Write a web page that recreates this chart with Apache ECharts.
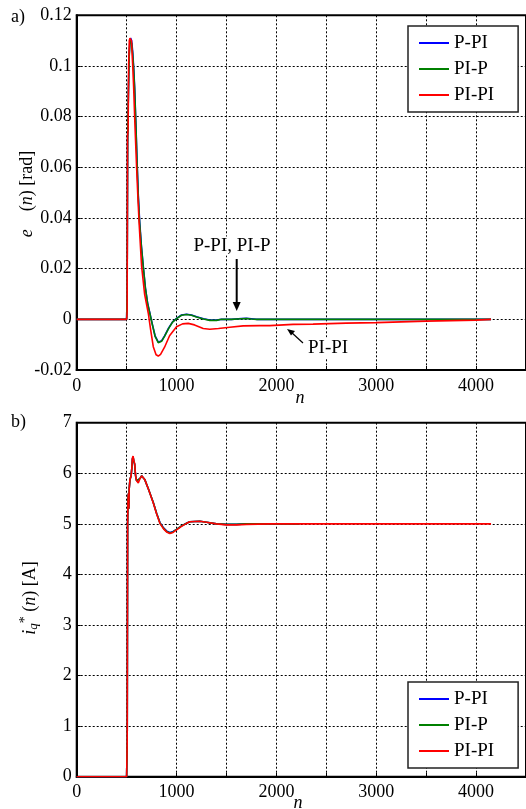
<!DOCTYPE html>
<html>
<head>
<meta charset="utf-8">
<script src="https://cdn.jsdelivr.net/npm/echarts@6/dist/echarts.min.js"></script>
<style>
html,body{margin:0;padding:0;background:#fff;}
#chart{width:526px;height:809px;}
</style>
</head>
<body>
<div id="chart"></div>
<script>
// ---------- labels ----------
var seriesNames = ['P-PI', 'PI-P', 'PI-PI'];
var xTicks = [0, 1000, 2000, 3000, 4000];

// ---------- data (a) e(n) ----------
var nE_PPI = [0,500,505,510,518,525,533,540,550,560,570,580,593,605,617,630,648,667,688,710,733,758,785,817,850,880,920,960,1000,1050,1100,1150,1200,1270,1333,1400,1450,1550,1650,1700,1750,1800,4150];
var e_PPI  = [0,0,0.01,0.07,0.09,0.104,0.110,0.111,0.110,0.106,0.100,0.092,0.077,0.062,0.049,0.039,0.029,0.0208,0.0125,0.0065,0.0024,-0.002,-0.0065,-0.009,-0.0085,-0.0065,-0.0035,-0.001,0.0004,0.0017,0.002,0.0017,0.001,0.0002,-0.0003,-0.0003,0,0,0.0003,0.0004,0.0002,0,0];

var nE_PIP = nE_PPI.slice();
var e_PIP  = [0,0,0.01,0.07,0.09,0.103,0.109,0.110,0.109,0.105,0.099,0.091,0.076,0.061,0.048,0.038,0.0285,0.0205,0.0122,0.0062,0.0022,-0.0022,-0.0067,-0.0092,-0.0087,-0.0067,-0.0037,-0.0011,0.0003,0.0016,0.0019,0.0016,0.0009,0.0001,-0.0004,-0.0004,0,0,0.0002,0.0003,0.0001,0,0];

var nE_PIPI = [0,500,505,507,509,515,520,527,533,548,560,570,583,600,612,625,650,680,717,740,767,795,817,840,880,930,1000,1060,1117,1180,1267,1333,1420,1533,1667,1833,1933,2167,2367,2700,3000,3500,4000,4150];
var e_PIPI  = [0,0,0.003,0.03,0.072,0.075,0.100,0.110,0.111,0.110,0.101,0.092,0.077,0.060,0.049,0.038,0.021,0.010,0.0024,-0.004,-0.0108,-0.014,-0.0145,-0.0138,-0.011,-0.0065,-0.0029,-0.0018,-0.0016,-0.0022,-0.0036,-0.0039,-0.0036,-0.0031,-0.0026,-0.0025,-0.0025,-0.002,-0.0019,-0.0015,-0.0013,-0.0007,-0.0003,0];

// ---------- data (b) iq*(n) ----------
var nI_PPI = [0,500,503,506,508,510,514,518,522,526,533,545,552,558,565,572,580,590,600,617,635,650,667,683,720,767,800,833,870,900,933,965,1000,1050,1100,1133,1233,1300,1400,1500,1600,1700,1933,2233];
var i_PPI  = [0,0,0,0.7,3.0,5.0,5.5,5.6,5.3,5.7,5.87,5.95,6.1,6.28,6.32,6.24,6.18,5.95,5.85,5.82,5.9,5.95,5.93,5.87,5.68,5.42,5.21,5.03,4.92,4.86,4.83,4.85,4.89,4.96,5.01,5.04,5.05,5.03,5.0,4.99,4.99,5.0,5.0,5.0];

var nI_PIP = nI_PPI.slice();
var i_PIP  = [0,0,0,0.7,3.0,5.0,5.5,5.6,5.3,5.7,5.87,5.95,6.1,6.28,6.32,6.24,6.18,5.95,5.85,5.82,5.9,5.95,5.93,5.87,5.68,5.42,5.21,5.02,4.91,4.85,4.82,4.84,4.89,4.96,5.01,5.04,5.05,5.03,5.0,4.99,4.99,5.0,5.0,5.0];

var nI_PIPI = [0,500,503,506,508,510,514,518,522,526,533,545,552,558,565,572,580,590,600,617,635,650,667,683,720,767,800,833,870,900,933,965,1000,1050,1100,1133,1233,1300,1400,1500,1600,1700,1933,2233,4150];
var i_PIPI  = [0,0,0,0.7,3.0,5.0,5.5,5.6,5.3,5.7,5.87,5.95,6.1,6.3,6.34,6.25,6.2,5.95,5.85,5.81,5.9,5.95,5.93,5.87,5.68,5.41,5.2,5.01,4.9,4.84,4.81,4.83,4.88,4.95,5.01,5.04,5.05,5.03,5.0,4.98,4.98,4.99,5.0,5.0,5.0];

var colors = ['#0000ff', '#008000', '#ff0000'];

function zip(a, b) { return a.map(function (v, i) { return [v, b[i]]; }); }

var FONT = "'Liberation Serif', 'Times New Roman', serif";
var GRID_L = 76.7, GRID_W = 450;

function xAxisCfg(gridIndex) {
  return {
    type: 'value', gridIndex: gridIndex, min: 0, max: 4500, interval: 500,
    axisLine: { show: true, onZero: false, lineStyle: { color: '#000', width: 2 } },
    axisTick: { show: true, inside: true, length: 4, lineStyle: { color: '#000' } },
    axisLabel: {
      color: '#000', fontFamily: FONT, fontSize: 18, margin: 7, showMaxLabel: false,
      formatter: function (v) { return xTicks.indexOf(v) >= 0 ? String(v) : ''; }
    },
    splitLine: { show: true, lineStyle: { color: '#000', type: [2, 2], width: 1 } }
  };
}
function yAxisCfg(gridIndex, min, max, interval) {
  return {
    type: 'value', gridIndex: gridIndex, min: min, max: max, interval: interval,
    axisLine: { show: true, onZero: false, lineStyle: { color: '#000', width: 2 } },
    axisTick: { show: true, inside: true, length: 4, lineStyle: { color: '#000' } },
    axisLabel: {
      color: '#000', fontFamily: FONT, fontSize: 18, margin: 5,
      formatter: function (v) { return String(Math.round(v * 100) / 100); }
    },
    splitLine: { show: true, lineStyle: { color: '#000', type: [2, 2], width: 1 } }
  };
}
function lineSeries(name, data, color, xi, yi, z) {
  return {
    name: name, type: 'line', data: data, xAxisIndex: xi, yAxisIndex: yi,
    symbol: 'none', showSymbol: false, animation: false, z: z,
    lineStyle: { color: color, width: 1.6 }, itemStyle: { color: color }
  };
}
function legendCfg(top) {
  return {
    orient: 'vertical', left: 408, top: top,
    data: seriesNames.map(function (n) { return { name: n, icon: 'path://M0,0 L30,0 L30,2 L0,2 Z' }; }),
    itemWidth: 30, itemHeight: 2, itemGap: 6,
    padding: [7, 24, 7, 11],
    borderColor: '#222', borderWidth: 1.5, backgroundColor: '#fff',
    textStyle: { color: '#000', fontFamily: FONT, fontSize: 19, lineHeight: 20 }
  };
}

var chart = echarts.init(document.getElementById('chart'), null, { renderer: 'canvas' });

var option = {
  backgroundColor: '#fff',
  animation: false,
  grid: [
    { left: GRID_L, top: 15.3, width: GRID_W, height: 354.7, show: true, borderColor: '#000', borderWidth: 2, containLabel: false },
    { left: GRID_L, top: 422.7, width: GRID_W, height: 354, show: true, borderColor: '#000', borderWidth: 2, containLabel: false }
  ],
  xAxis: [xAxisCfg(0), xAxisCfg(1)],
  yAxis: [yAxisCfg(0, -0.02, 0.12, 0.02), yAxisCfg(1, 0, 7, 1)],
  legend: [
    Object.assign(legendCfg(26), { id: 'legA' }),
    Object.assign(legendCfg(682), { id: 'legB' })
  ],
  series: [
    lineSeries('P-PI', zip(nE_PPI, e_PPI), colors[0], 0, 0, 2),
    lineSeries('PI-P', zip(nE_PIP, e_PIP), colors[1], 0, 0, 3),
    lineSeries('PI-PI', zip(nE_PIPI, e_PIPI), colors[2], 0, 0, 4),
    lineSeries('P-PI', zip(nI_PPI, i_PPI), colors[0], 1, 1, 2),
    lineSeries('PI-P', zip(nI_PIP, i_PIP), colors[1], 1, 1, 3),
    lineSeries('PI-PI', zip(nI_PIPI, i_PIPI), colors[2], 1, 1, 4)
  ],
  graphic: [
    { type: 'text', left: 11, top: 8, style: { text: 'a)', font: '18px "Liberation Serif"', fill: '#000' } },
    { type: 'text', left: 11, top: 413, style: { text: 'b)', font: '18px "Liberation Serif"', fill: '#000' } },
    // x axis names
    { type: 'text', x: 300, y: 398, style: { text: 'n', font: 'italic 18px "Liberation Serif"', fill: '#000', align: 'center', verticalAlign: 'middle' } },
    { type: 'text', x: 298, y: 803, style: { text: 'n', font: 'italic 18px "Liberation Serif"', fill: '#000', align: 'center', verticalAlign: 'middle' } },
    // y axis names
    { type: 'text', x: 27, y: 194, rotation: Math.PI / 2,
      style: { text: '{i|e}    ({i|n}) [rad]', align: 'center', verticalAlign: 'middle', fill: '#000',
        font: '18px "Liberation Serif"',
        rich: { i: { fontStyle: 'italic', fontFamily: FONT, fontSize: 18, fill: '#000' } } } },
    { type: 'text', x: 30, y: 598, rotation: Math.PI / 2,
      style: { text: '{i|i}{s|q}{p|*}{t| (}{i|n}{t|) [A]}', align: 'center', verticalAlign: 'middle', fill: '#000',
        font: '18px "Liberation Serif"',
        rich: {
          i: { fontStyle: 'italic', fontFamily: FONT, fontSize: 18, fill: '#000', verticalAlign: 'middle' },
          t: { fontFamily: FONT, fontSize: 18, fill: '#000' },
          s: { fontStyle: 'italic', fontFamily: FONT, fontSize: 13, fill: '#000', padding: [8, 0, 0, 0] },
          p: { fontFamily: FONT, fontSize: 14, fill: '#000', padding: [0, 0, 10, 0] }
        } } },
    // annotation P-PI, PI-P
    { type: 'text', x: 232, y: 246, z: 50,
      style: { text: 'P-PI, PI-P', font: '19px "Liberation Serif"', fill: '#000', align: 'center', verticalAlign: 'middle',
        backgroundColor: '#fff', padding: [0, 1, 0, 1] } },
    { type: 'line', z: 50, shape: { x1: 236.7, y1: 259, x2: 236.7, y2: 304 }, style: { stroke: '#000', lineWidth: 2 } },
    { type: 'polygon', z: 50, shape: { points: [[232.7, 302], [240.7, 302], [236.7, 311]] }, style: { fill: '#000' } },
    // annotation PI-PI
    { type: 'text', x: 307, y: 348, z: 50,
      style: { text: 'PI-PI', font: '19px "Liberation Serif"', fill: '#000', align: 'left', verticalAlign: 'middle',
        backgroundColor: '#fff', padding: [1, 1, 1, 1] } },
    { type: 'line', z: 50, shape: { x1: 303, y1: 343, x2: 291, y2: 332 }, style: { stroke: '#000', lineWidth: 1.2 } },
    { type: 'polygon', z: 50, shape: { points: [[287, 329], [295, 331], [291, 335.5]] }, style: { fill: '#000' } }
  ]
};

chart.setOption(option);
</script>
</body>
</html>
